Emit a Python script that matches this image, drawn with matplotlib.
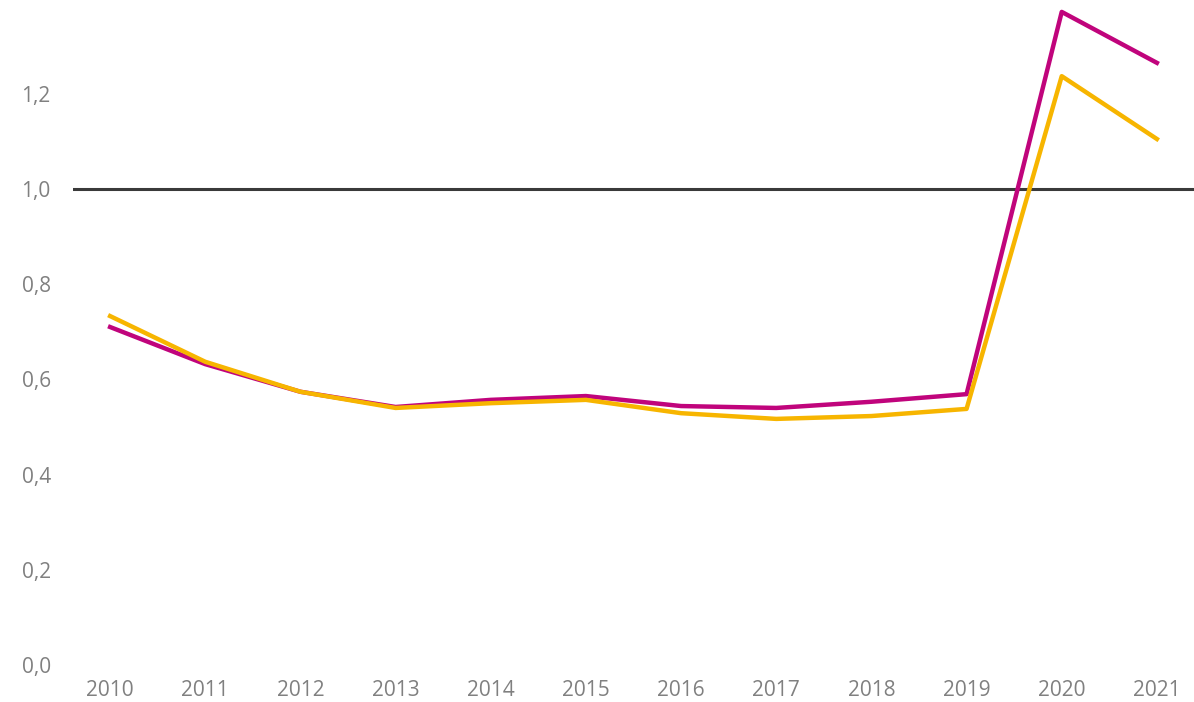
import matplotlib.pyplot as plt
from matplotlib.ticker import FuncFormatter

plt.rcParams['font.family'] = ['Open Sans', 'DejaVu Sans']

years = [2010, 2011, 2012, 2013, 2014, 2015, 2016, 2017, 2018, 2019, 2020, 2021]
magenta = [0.710, 0.632, 0.574, 0.542, 0.557, 0.565, 0.544, 0.540, 0.553, 0.569, 1.372, 1.265]
orange = [0.733, 0.637, 0.574, 0.540, 0.550, 0.557, 0.529, 0.517, 0.523, 0.538, 1.237, 1.105]
yticks = [0.0, 0.2, 0.4, 0.6, 0.8, 1.0, 1.2]
ref_level = 1.0

fig = plt.figure(figsize=(11.94, 7.02), dpi=100)
ax = fig.add_axes([73 / 1194, 37 / 702, 1 - 73 / 1194, 1 - 37 / 702])

ax.axhline(ref_level, color='#3a3a3a', lw=2.2, zorder=1)
ax.plot(years, magenta, color='#C0047C', lw=3.2, zorder=3)
ax.plot(years, orange, color='#F7B500', lw=3.2, zorder=3)

ax.set_xlim(2009.61, 2021.39)
ax.set_ylim(0, 1.397)
ax.set_xticks(years)
ax.set_yticks(yticks)
ax.yaxis.set_major_formatter(FuncFormatter(lambda v, p: f"{v:.1f}".replace('.', ',')))

for s in ax.spines.values():
    s.set_visible(False)
ax.tick_params(length=0, labelsize=15, colors='#808080')
ax.tick_params(axis='y', pad=16)
ax.tick_params(axis='x', pad=11)

fig.savefig('out.png', dpi=100)
